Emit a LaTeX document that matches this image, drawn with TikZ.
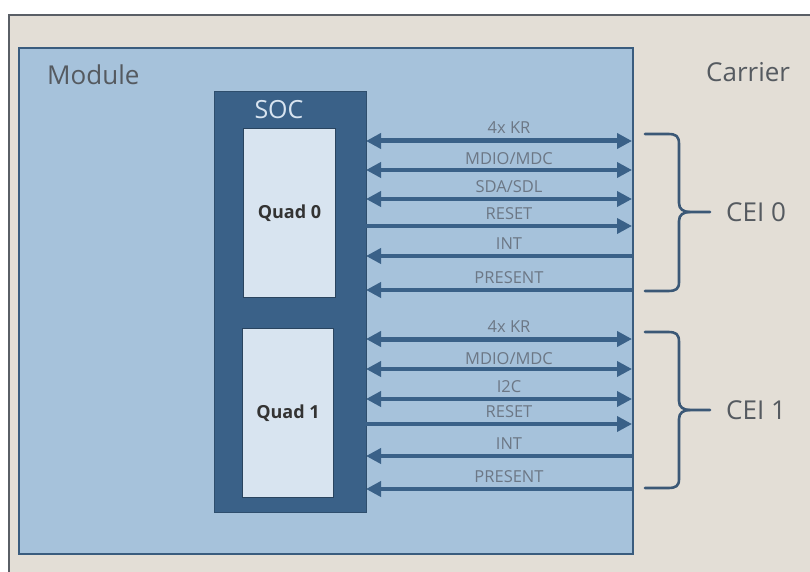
\documentclass[tikz,border=0pt]{standalone}
\usepackage{fontspec}
\setmainfont{Open Sans}
\usetikzlibrary{arrows.meta}
\definecolor{carrierbg}{HTML}{E3DED6}
\definecolor{carrierborder}{HTML}{5A5F66}
\definecolor{modulebg}{HTML}{A6C2DB}
\definecolor{moduleborder}{HTML}{3A5C7E}
\definecolor{socblue}{HTML}{3A6188}
\definecolor{quadbg}{HTML}{D8E4F0}
\definecolor{labelgray}{HTML}{6C7785}
\definecolor{titlegray}{HTML}{555A60}
\definecolor{bracecol}{HTML}{3B5876}
\tikzset{
  sig/.style={draw=socblue, line width=3.6pt},
  kr/.style={draw=socblue, line width=5pt},
  tipA/.style={-{Triangle[length=15pt,width=15pt]}},
  tipB/.style={{Triangle[length=15pt,width=15pt]}-{Triangle[length=15pt,width=15pt]}},
  tipL/.style={{Triangle[length=15pt,width=15pt]}-},
  siglabel/.style={text=labelgray, font=\fontsize{16.5}{16.5}\selectfont, inner sep=0pt},
  quadbox/.style={draw=socblue!70!black, line width=1pt, fill=quadbg, inner sep=0pt},
  quadtext/.style={text=black!80, font=\bfseries\fontsize{18}{18}\selectfont},
  bigtext/.style={text=titlegray, font=\fontsize{26}{26}\selectfont, inner sep=0pt},
  bracepath/.style={draw=bracecol, line width=2.6pt, line cap=round, line join=round}
}
\begin{document}
\begin{tikzpicture}[x=1pt,y=-1pt]
\useasboundingbox (0,0) rectangle (810,572);
\fill[white] (0,0) rectangle (810,572);
% carrier (extends past the right and bottom edges)
\node[draw=carrierborder, line width=1.6pt, fill=carrierbg, minimum width=820pt, minimum height=580pt, anchor=north west, inner sep=0pt] (carrier) at (8,14) {};
% module
\node[draw=moduleborder, line width=1.6pt, fill=modulebg, minimum width=614pt, minimum height=506pt, anchor=north west, inner sep=0pt] (module) at (18,47) {};
\node[bigtext, anchor=west] (modtxt) at (47,75) {Module};
\node[bigtext, anchor=west] (cartxt) at (706,72) {Carrier};
% SOC
\node[fill=socblue, draw=socblue!80!black, line width=1pt, minimum width=152pt, minimum height=421pt, anchor=north west, inner sep=0pt] (soc) at (214,91) {};
\node[text=quadbg, font=\fontsize{25}{25}\selectfont, inner sep=0pt] (soctxt) at (279,110) {SOC};
\node[quadbox, minimum width=92pt, minimum height=169pt, anchor=north west] (q0) at (243,128) {};
\node[quadtext] (q0t) at (q0.center) {Quad 0};
\node[quadbox, minimum width=91pt, minimum height=169pt, anchor=north west] (q1) at (242,328) {};
\node[quadtext] (q1t) at (q1.center) {Quad 1};
% arrow end points
\foreach \n/\y in {a/141,b/170,c/199,d/226,e/256,f/290,g/339,h/369,i/399,j/424,k/456,l/489}{
  \coordinate (p\n s) at (366,\y);
  \coordinate (p\n e) at (632,\y);
}
% group 0
\draw[kr,tipB] (pas) -- (pae);
\draw[sig,tipB] (pbs) -- (pbe);
\draw[sig,tipB] (pcs) -- (pce);
\draw[sig,tipA] (pds) -- (pde);
\draw[sig,tipL] (pes) -- (pee);
\draw[sig,tipL] (pfs) -- (pfe);
\node[siglabel] (la) at (509,128) {4x KR};
\node[siglabel] (lb) at (509,159) {MDIO/MDC};
\node[siglabel] (lc) at (509,187) {SDA/SDL};
\node[siglabel] (ld) at (509,214) {RESET};
\node[siglabel] (le) at (509,244) {INT};
\node[siglabel] (lf) at (509,278) {PRESENT};
% group 1
\draw[kr,tipB] (pgs) -- (pge);
\draw[sig,tipB] (phs) -- (phe);
\draw[sig,tipB] (pis) -- (pie);
\draw[sig,tipA] (pjs) -- (pje);
\draw[sig,tipL] (pks) -- (pke);
\draw[sig,tipL] (pls) -- (ple);
\node[siglabel] (lg) at (509,327) {4x KR};
\node[siglabel] (lh) at (509,359) {MDIO/MDC};
\node[siglabel] (li) at (509,387) {I2C};
\node[siglabel] (lj) at (509,412) {RESET};
\node[siglabel] (lk) at (509,444) {INT};
\node[siglabel] (ll) at (509,477) {PRESENT};
% braces
\draw[bracepath] (645,134) -- (668,134) .. controls (676,134) and (679,136) .. (679,144) -- (679,203) .. controls (679,209) and (683,212) .. (690,212) -- (710,212);
\draw[bracepath] (690,212) .. controls (683,212) and (679,215) .. (679,221) -- (679,282) .. controls (679,289) and (676,291) .. (668,291) -- (645,291);
\draw[bracepath] (645,332) -- (668,332) .. controls (676,332) and (679,334) .. (679,342) -- (679,401) .. controls (679,407) and (683,410) .. (690,410) -- (710,410);
\draw[bracepath] (690,410) .. controls (683,410) and (679,413) .. (679,419) -- (679,479) .. controls (679,486) and (676,488) .. (668,488) -- (645,488);
\node[bigtext, anchor=west] (cei0) at (726,212) {CEI 0};
\node[bigtext, anchor=west] (cei1) at (726,410) {CEI 1};
\end{tikzpicture}
\end{document}
